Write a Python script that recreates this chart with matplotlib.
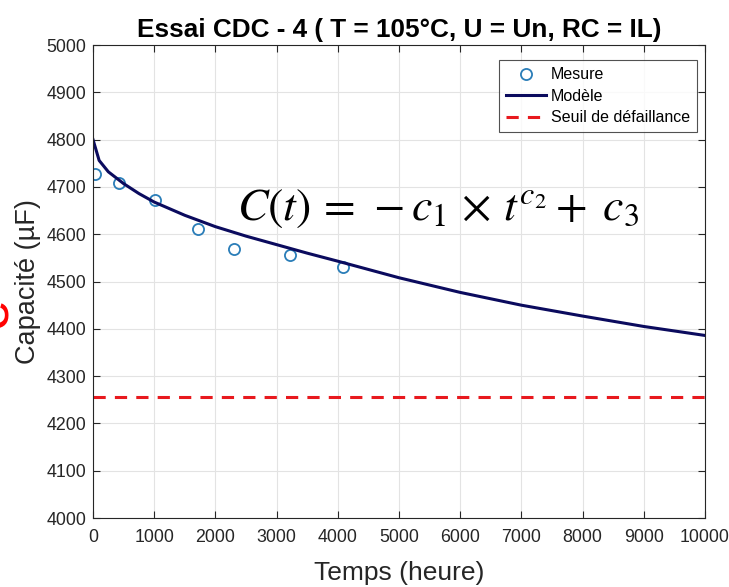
import numpy as np
import matplotlib.pyplot as plt

plt.rcParams['font.family'] = ['Liberation Sans', 'DejaVu Sans']
plt.rcParams['mathtext.fontset'] = 'stix'

# mesures
t_mes = [30, 425, 1010, 1715, 2300, 3220, 4080]
c_mes = [4728, 4708, 4672, 4612, 4568, 4557, 4530]

# modele
t_mod = [0, 100, 250, 500, 750, 1000, 1500, 2000, 2500, 3000, 3500, 4000,
         5000, 6000, 7000, 8000, 9000, 10000]
c_mod = [4800, 4756, 4732, 4707, 4686, 4668, 4640, 4616, 4596, 4578, 4560, 4543,
         4508, 4477, 4450, 4427, 4405, 4386]

seuil = 4255

fig = plt.figure(figsize=(7.29, 5.87), dpi=100)
ax = fig.add_axes([0.1276, 0.1175, 0.8394, 0.8058])

ax.plot(t_mes, c_mes, 'o', mfc='none', mec='#2a7db8', ms=8, mew=1.3, label='Mesure')
ax.plot(t_mod, c_mod, '-', color='#0b0b5e', lw=2.2, label='Modèle')
ax.axhline(seuil, color='#e8191e', ls=(0, (4, 3)), lw=2.2, label='Seuil de défaillance')

ax.set_xlim(0, 10000)
ax.set_ylim(4000, 5000)
ax.set_xticks(np.arange(0, 10001, 1000))
ax.set_yticks(np.arange(4000, 5001, 100))
ax.grid(True, color='#e3e3e3', lw=0.8)
ax.set_axisbelow(True)
ax.tick_params(direction='in', top=True, right=True, labelsize=12.8,
               colors='#262626', length=5)
ax.tick_params(axis='x', pad=8)
ax.tick_params(axis='y', pad=5)
for s in ax.spines.values():
    s.set_color('#262626')
    s.set_linewidth(0.8)

ax.set_title('Essai CDC - 4 ( T = 105°C, U = Un, RC = IL)', fontsize=18.8,
             fontweight='bold', pad=6)
ax.set_xlabel('Temps (heure)', fontsize=19, color='#262626', labelpad=11)
ax.set_ylabel('Capacité (µF)', fontsize=19.5, color='#262626', labelpad=4)

leg = ax.legend(loc='upper right', bbox_to_anchor=(0.987, 0.968), fontsize=11.5,
                frameon=True, fancybox=False, edgecolor='#262626',
                handlelength=2.5, handletextpad=0.3, borderpad=0.45,
                labelspacing=0.4, borderaxespad=0)
leg.get_frame().set_linewidth(0.8)

ax.text(0.235, 0.655, r'$C(t)\,=\,-c_1\,\times\,t^{c_2}+\;c_3$', transform=ax.transAxes,
        fontsize=33, color='black', va='center')

fig.text(19 / 729, 1 - 313 / 587, 'e', rotation=90, color='red', fontsize=40,
         ha='right', va='center')

fig.savefig('out.png', dpi=100)
